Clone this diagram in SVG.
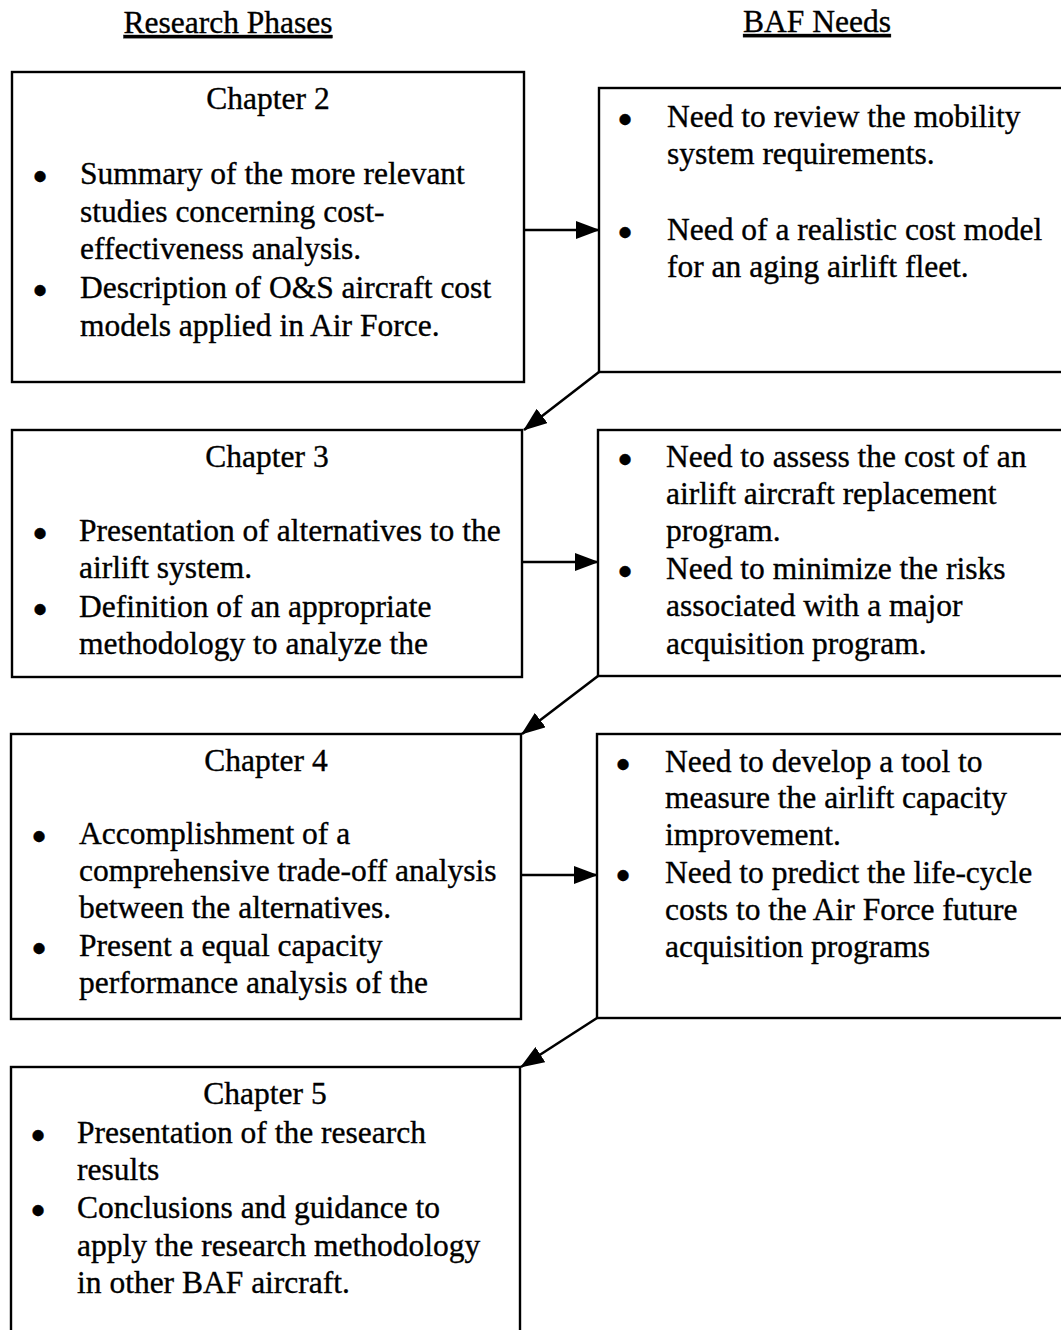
<svg xmlns="http://www.w3.org/2000/svg" width="1061" height="1330" viewBox="0 0 1061 1330">
<defs>
<marker id="ah" markerWidth="24" markerHeight="18" viewBox="0 0 24 18" refX="23" refY="9" orient="auto" markerUnits="userSpaceOnUse">
<path d="M0,0 L24,9 L0,18 Z" fill="#000"/>
</marker>
<style>
.box{fill:#fff;stroke:#000;stroke-width:2.4}
text{font-family:"Liberation Serif","Times New Roman",serif;font-size:31.5px;fill:#000;stroke:#000;stroke-width:0.35}
.hd{text-decoration:underline}
.ctr{text-anchor:middle}
.bl{font-size:46px}
.conn{stroke:#000;stroke-width:2.6;fill:none}
</style>
</defs>
<rect width="1061" height="1330" fill="#fff"/>
<g id="headers">
<text class="hd ctr" x="228" y="33">Research Phases</text>
<text class="hd ctr" x="817" y="32">BAF Needs</text>
</g>
<g id="ch2">
<rect class="box" x="12" y="72" width="512" height="310"/>
<text class="ctr" x="268" y="109">Chapter 2</text>
<text class="bl" x="32" y="192">•</text>
<text x="80" y="184">Summary of the more relevant</text>
<text x="80" y="222">studies concerning cost-</text>
<text x="80" y="259">effectiveness analysis.</text>
<text class="bl" x="32" y="306">•</text>
<text x="80" y="298">Description of O&amp;S aircraft cost</text>
<text x="80" y="336">models applied in Air Force.</text>
</g>
<g id="need1">
<rect class="box" x="599" y="88" width="480" height="284"/>
<text class="bl" x="617" y="135">•</text>
<text x="667" y="127">Need to review the mobility</text>
<text x="667" y="164">system requirements.</text>
<text class="bl" x="617" y="248">•</text>
<text x="667" y="240">Need of a realistic cost model</text>
<text x="667" y="277">for an aging airlift fleet.</text>
</g>
<g id="ch3">
<rect class="box" x="12" y="430" width="510" height="247"/>
<text class="ctr" x="267" y="467">Chapter 3</text>
<text class="bl" x="32" y="549">•</text>
<text x="79" y="541">Presentation of alternatives to the</text>
<text x="79" y="578">airlift system.</text>
<text class="bl" x="32" y="625">•</text>
<text x="79" y="617">Definition of an appropriate</text>
<text x="79" y="654">methodology to analyze the</text>
</g>
<g id="need2">
<rect class="box" x="598" y="430" width="480" height="246"/>
<text class="bl" x="617" y="475">•</text>
<text x="666" y="467">Need to assess the cost of an</text>
<text x="666" y="504">airlift aircraft replacement</text>
<text x="666" y="541">program.</text>
<text class="bl" x="617" y="587">•</text>
<text x="666" y="579">Need to minimize the risks</text>
<text x="666" y="616">associated with a major</text>
<text x="666" y="654">acquisition program.</text>
</g>
<g id="ch4">
<rect class="box" x="11" y="734" width="510" height="285"/>
<text class="ctr" x="266" y="771">Chapter 4</text>
<text class="bl" x="31" y="852">•</text>
<text x="79" y="844">Accomplishment of a</text>
<text x="79" y="881">comprehensive trade-off analysis</text>
<text x="79" y="918">between the alternatives.</text>
<text class="bl" x="31" y="964">•</text>
<text x="79" y="956">Present a equal capacity</text>
<text x="79" y="993">performance analysis of the</text>
</g>
<g id="need3">
<rect class="box" x="597" y="734" width="480" height="284"/>
<text class="bl" x="615" y="780">•</text>
<text x="665" y="772">Need to develop a tool to</text>
<text x="665" y="808">measure the airlift capacity</text>
<text x="665" y="845">improvement.</text>
<text class="bl" x="615" y="891">•</text>
<text x="665" y="883">Need to predict the life-cycle</text>
<text x="665" y="920">costs to the Air Force future</text>
<text x="665" y="957">acquisition programs</text>
</g>
<g id="ch5">
<rect class="box" x="11" y="1067" width="509" height="290"/>
<text class="ctr" x="265" y="1104">Chapter 5</text>
<text class="bl" x="30" y="1151">•</text>
<text x="77" y="1143">Presentation of the research</text>
<text x="77" y="1180">results</text>
<text class="bl" x="30" y="1226">•</text>
<text x="77" y="1218">Conclusions and guidance to</text>
<text x="77" y="1256">apply the research methodology</text>
<text x="77" y="1293">in other BAF aircraft.</text>
</g>
<g id="connectors">
<line class="conn" x1="524" y1="230" x2="599" y2="230" marker-end="url(#ah)"/>
<line class="conn" x1="599" y1="372" x2="524" y2="430" marker-end="url(#ah)"/>
<line class="conn" x1="522" y1="562" x2="598" y2="562" marker-end="url(#ah)"/>
<line class="conn" x1="598" y1="676" x2="522" y2="734" marker-end="url(#ah)"/>
<line class="conn" x1="521" y1="875" x2="597" y2="875" marker-end="url(#ah)"/>
<line class="conn" x1="597" y1="1018" x2="521" y2="1067" marker-end="url(#ah)"/>
</g>
</svg>
